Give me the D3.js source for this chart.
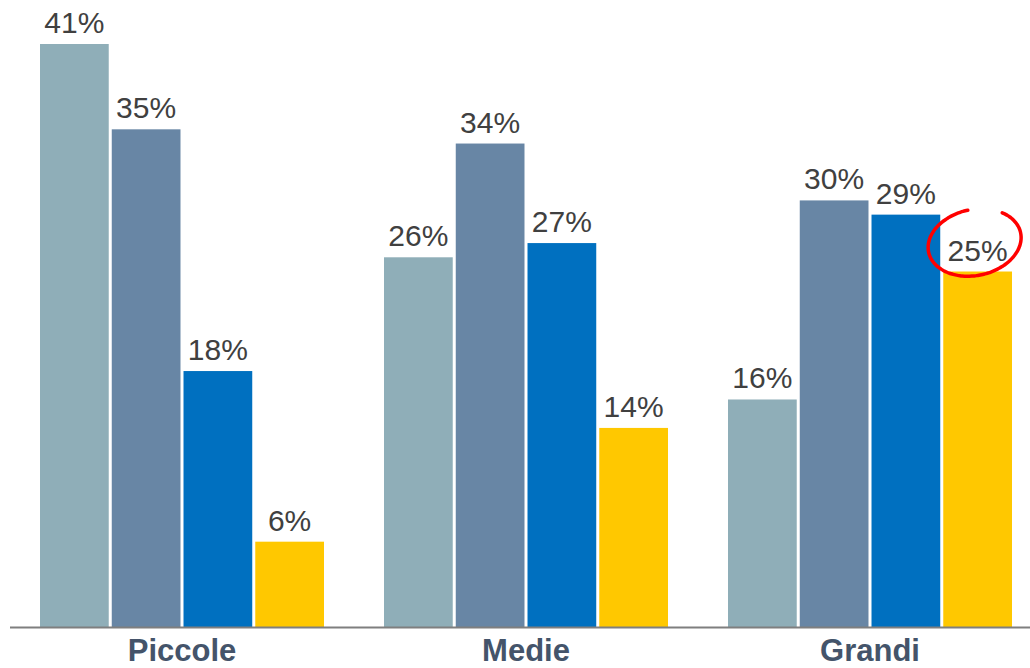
<!DOCTYPE html>
<html>
<head>
<meta charset="utf-8">
<script src="https://cdn.jsdelivr.net/npm/d3@7"></script>
<style>
  html, body { margin: 0; padding: 0; background: #ffffff; }
  svg { display: block; }
</style>
</head>
<body>
<div id="chart"></div>
<script>
// Company size classes and the four series shown for each
const categories = ["Piccole", "Medie", "Grandi"];
const seriesNames = ["s1", "s2", "s3", "s4"];
const seriesColors = ["#8FAEB8", "#6886A5", "#0070C0", "#FFC800"];
const piccole = [41, 35, 18, 6];
const medie = [26, 34, 27, 14];
const grandi = [16, 30, 29, 25];
const values = [piccole, medie, grandi];

const width = 1030, height = 668;
const svg = d3.select("#chart").append("svg")
  .attr("width", width).attr("height", height);

const baseY = 627;
const x0 = d3.scaleBand().domain(categories).range([10, 1042]).paddingInner(0).paddingOuter(0);
const x1 = d3.scaleBand().domain(seriesNames).range([30, x0.bandwidth() - 30]).paddingInner(0.042).paddingOuter(0);
const y = d3.scaleLinear().domain([0, 41]).range([baseY, 44]);

const rows = categories.map((c, i) => ({ cat: c, vals: values[i] }));

const groups = svg.selectAll("g.grp").data(rows).join("g")
  .attr("class", "grp")
  .attr("transform", d => `translate(${x0(d.cat)},0)`);

groups.selectAll("rect").data(d => d.vals.map((v, j) => ({ key: seriesNames[j], v, j })))
  .join("rect")
  .attr("x", d => x1(d.key))
  .attr("y", d => y(d.v))
  .attr("width", x1.bandwidth())
  .attr("height", d => baseY - y(d.v))
  .attr("fill", d => seriesColors[d.j]);

groups.selectAll("text.val").data(d => d.vals.map((v, j) => ({ key: seriesNames[j], v, j })))
  .join("text")
  .attr("class", "val")
  .attr("x", d => x1(d.key) + x1.bandwidth() / 2)
  .attr("y", d => y(d.v) - 11)
  .attr("text-anchor", "middle")
  .attr("font-family", "Liberation Sans, Arial, sans-serif")
  .attr("font-size", 30)
  .attr("fill", "#404040")
  .text(d => d.v + "%");

// Category axis along the baseline
const xAxis = d3.axisBottom(x0).tickSize(0).tickPadding(0);
const axisG = svg.append("g").attr("transform", `translate(0,${baseY})`).call(xAxis);
axisG.select(".domain").remove();
axisG.selectAll("text")
  .attr("dy", null)
  .attr("y", 34)
  .attr("font-family", "Liberation Sans, Arial, sans-serif")
  .attr("font-size", 31)
  .attr("font-weight", "bold")
  .attr("fill", "#44546A");
svg.append("line")
  .attr("x1", 10).attr("x2", width)
  .attr("y1", baseY + 0.5).attr("y2", baseY + 0.5)
  .attr("stroke", "#7F7F7F").attr("stroke-width", 2);

// Hand-drawn highlight around the last label of "Grandi"
const lastKey = seriesNames[3];
const cx = x0("Grandi") + x1(lastKey) + x1.bandwidth() / 2 - 3;
const cy = y(grandi[3]) - 29;
const rx = 47, ry = 33, rot = -12 * Math.PI / 180;
const pts = d3.range(-45, 273, 3).map(deg => {
  const t = deg * Math.PI / 180;
  const ex = rx * Math.cos(t), ey = ry * Math.sin(t);
  return [cx + ex * Math.cos(rot) - ey * Math.sin(rot), cy + ex * Math.sin(rot) + ey * Math.cos(rot)];
});
svg.append("path")
  .attr("d", d3.line().curve(d3.curveCatmullRom)(pts))
  .attr("fill", "none")
  .attr("stroke", "#FF0000")
  .attr("stroke-width", 3.5)
  .attr("stroke-linecap", "round");
</script>
</body>
</html>
